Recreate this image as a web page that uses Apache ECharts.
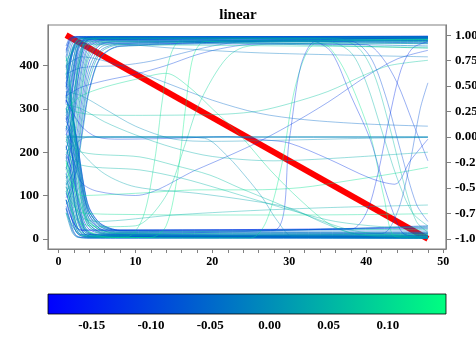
<!DOCTYPE html>
<html><head><meta charset="utf-8">
<script src="https://cdn.jsdelivr.net/npm/echarts@6/dist/echarts.min.js"></script>
<style>html,body{margin:0;padding:0;background:#fff}#c{width:476px;height:343px}</style>
</head><body><div id="c"></div>
<script>
const TITLE = 'linear';
const X_TICKS = [0,2,4,6,8,10,12,14,16,18,20,22,24,26,28,30,32,34,36,38,40,42,44,46,48,50];
const X_LABELS = [0,10,20,30,40,50];
const Y_LEFT_TICKS = [0,100,200,300,400];
const Y_RIGHT_TICKS = [-1,-0.75,-0.5,-0.25,0,0.25,0.5,0.75,1];
const CBAR_TICKS = [-0.15,-0.10,-0.05,0.00,0.05,0.10];
const CBAR_RANGE = [-0.187, 0.149];
const RED_LINE = [[1, 1], [48, -1]];

// shared x grid for the fast-settling lines
const FAST_X = [1, 1.4, 1.8, 2.2, 2.6, 3.3, 4, 5.5, 8, 48];
const upLines = [
 [445,462,466,467,467,467,467,467,467,466],
 [430,455,463,465,466,466,466,466,466,465],
 [410,440,458,464,465,465,465,465,465,464],
 [395,425,450,460,463,464,464,464,464,463],
 [380,405,435,452,460,463,463,463,463,460],
 [360,390,425,448,458,462,462,462,462,458],
 [345,370,405,435,452,460,461,461,461,455],
 [330,350,385,420,445,458,460,460,460,452],
 [315,340,375,410,440,457,461,462,462,462],
 [300,320,350,390,425,452,460,462,462,461],
 [285,305,340,380,415,450,460,463,463,463],
 [270,290,320,360,400,445,458,462,463,462],
 [255,275,310,350,395,440,456,461,462,464],
 [240,255,285,330,375,432,452,460,461,466],
 [225,240,270,310,355,420,448,458,460,465],
 [210,225,255,295,340,410,443,457,459,458],
 [195,210,235,275,320,395,435,455,458,450],
 [180,195,220,255,300,380,428,452,456,445],
 [165,180,205,240,285,370,420,450,455,440],
 [150,160,185,220,265,350,410,448,454,456],
 [140,150,170,200,245,330,395,442,452,462],
 [125,135,150,180,225,310,380,435,450,466],
 [110,118,135,165,210,295,365,430,448,460],
 [95,105,125,150,190,275,345,420,445,464],
 [80,90,110,140,180,265,340,418,444,458],
 [420,450,462,465,466,466,466,466,466,467],
 [370,400,438,456,462,464,464,464,464,466],
 [325,360,400,435,455,463,465,465,465,465],
 [290,330,375,420,448,462,465,466,466,466],
 [250,290,340,395,435,460,464,465,465,467],
 [205,240,295,355,410,455,463,465,465,466],
 [160,190,245,310,375,445,461,464,464,465],
 [435,458,465,466,466,466,466,466,466,468],
 [350,385,428,452,461,464,465,465,465,467],
 [275,310,360,410,443,461,464,465,465,464],
 [185,215,270,335,395,450,462,464,464,463]
];
const upValues = [-0.07,-0.04,-0.01,-0.1,0.01,-0.06,0.03,-0.12,-0.02,-0.08,0.02,-0.05,0.05,-0.14,0.0,-0.09,0.03,-0.03,0.06,-0.11,-0.01,-0.06,0.04,-0.15,0.01,-0.08,-0.02,-0.04,0.03,-0.1,0.0,-0.05,-0.13,-0.03,-0.07,0.02];
const downLines = [
 [60,35,15,6,3,2,2,2,2,2],
 [75,50,25,10,5,3,3,3,3,3],
 [90,68,40,20,10,5,4,4,4,4],
 [105,85,55,30,15,7,5,5,5,6],
 [120,100,70,42,22,9,6,5,5,8],
 [135,115,85,55,32,12,7,6,6,10],
 [150,132,100,70,45,18,10,7,7,12],
 [165,148,118,85,58,25,13,9,8,5],
 [180,165,135,100,72,33,17,10,9,4],
 [195,180,150,118,88,42,22,12,10,3],
 [210,195,168,135,102,52,28,14,11,2],
 [225,210,185,152,118,62,33,16,12,6],
 [240,228,200,168,132,72,40,20,14,9],
 [255,242,218,185,148,84,47,23,15,12],
 [270,258,235,202,165,96,55,27,17,15],
 [285,272,250,218,180,108,62,30,19,18],
 [300,288,265,232,195,120,70,34,20,22],
 [320,305,280,245,205,125,72,35,20,25],
 [340,320,290,250,205,120,65,28,15,28],
 [360,335,295,245,195,105,55,22,12,30],
 [380,350,300,240,180,90,45,18,10,5],
 [400,365,300,225,160,75,35,14,8,3],
 [420,375,295,210,140,60,28,12,7,1],
 [110,80,45,20,10,5,4,4,4,2],
 [145,115,75,40,20,8,5,4,4,3],
 [190,160,115,70,38,13,7,5,5,4],
 [235,205,155,100,58,20,10,6,6,5],
 [280,250,195,130,78,28,13,8,7,6],
 [330,295,230,155,92,33,15,8,7,7],
 [175,160,140,115,92,58,38,20,12,11],
 [260,250,228,195,160,100,62,32,18,14],
 [70,42,20,8,4,2,1,1,1,1],
 [130,98,60,30,14,6,4,3,3,2],
 [215,180,125,75,40,14,7,5,5,3],
 [300,260,195,125,72,24,11,7,6,4]
];
const downValues = [0.0,-0.06,0.04,-0.03,-0.11,0.02,-0.07,-0.02,0.06,-0.13,0.01,-0.04,0.03,-0.09,-0.01,-0.05,0.05,-0.15,0.0,-0.08,0.02,-0.03,0.07,-0.1,-0.02,-0.06,0.04,-0.12,0.01,0.09,-0.04,-0.07,0.0,-0.1,-0.05];
const slowLines = [
 [[1,60],[3,8],[10,3],[25,2],[27,40],[29,170],[30.5,330],[32,420],[33.5,452],[35,445],[37,395],[39,315],[40.7,228],[42.3,95],[43.8,5],[48,2]],
 [[1,90],[3,20],[28,20],[30,230],[31.5,400],[33.3,455],[35.5,430],[38,330],[40.5,230],[42,140],[43.5,60],[45,10],[48,5]],
 [[1,250],[2,180],[3,130],[5,110],[10,100],[18,160],[25,215],[30,262],[35,315],[40,375],[44,415],[48,435]],
 [[1,300],[3,290],[5,286],[10,285],[18,286],[22,288],[26,295],[30,312],[35,340],[40,380],[43,400],[48,412]],
 [[1,330],[3,350],[6,365],[10,380],[14,400],[18,425],[22,442],[26,450],[48,452]],
 [[1,380],[3,395],[8,400],[12,410],[16,428],[20,445],[24,455],[48,458]],
 [[1,300],[3,330],[6,350],[10,368],[14,382],[17,350],[20,300],[23.6,239],[27.5,159],[31.4,90],[35.4,32],[39.4,9],[48,5]],
 [[1,180],[2,90],[3,30],[5,8],[8,3],[12,3],[14,30],[15.5,150],[16.5,300],[17.5,420],[19,455],[48,460]],
 [[1,120],[2,50],[3,15],[6,4],[9,5],[11,50],[12.5,180],[13.5,320],[14.5,420],[16,458],[48,456]],
 [[1,90],[2,55],[3,35],[6,28],[10,30],[14,100],[16.5,220],[18,300],[20,370],[22,420],[24,442],[28,450],[48,452]],
 [[1,240],[3,235],[15,235],[19,232],[22,190],[24.5,140],[26.5,95],[28.5,40],[30.5,5],[48,3]],
 [[1,230],[3,200],[10.6,189],[15,170],[19.7,147],[23.6,117],[28,85],[31.4,60],[38,20],[44,8],[48,6]],
 [[1,200],[3,170],[10.6,159],[16,140],[21,115],[26,88],[31.4,60],[36,40],[42,28],[48,25]],
 [[1,110],[3,60],[10,56],[20,55],[30,55],[40,56],[48,58]],
 [[1,150],[2,80],[3,50],[5,40],[15,55],[25,65],[35,72],[48,78]],
 [[1,160],[3,100],[10,105],[18.4,113],[25,113],[31.4,118],[38,135],[44,152],[48,165]],
 [[1,320],[3,260],[5,235],[8,230],[15,232],[22,236],[27,228],[30,221],[35,185],[40.5,140],[43.7,126],[45.7,180],[48,230]],
 [[1,260],[3,200],[6,150],[10,120],[18,105],[25,88],[30.1,71],[34,40],[37.9,14],[42,5],[48,4]],
 [[1,400],[3,462],[36,462],[39,440],[41,380],[43,260],[45,120],[46.5,40],[48,15]],
 [[1,350],[3,458],[38,456],[40.5,420],[42.5,330],[44.5,200],[46.5,80],[48,40]],
 [[1,380],[3,455],[35,455],[38,430],[40,360],[42,250],[44,140],[46,60],[48,30]],
 [[1,310],[3,450],[40,448],[42,420],[44,360],[46,270],[48,180]],
 [[1,90],[3,20],[38,22],[40,60],[41.5,150],[43,280],[44.5,390],[46,440],[48,455]],
 [[1,70],[3,10],[42,12],[44,60],[45.5,160],[47,300],[48,360]],
 [[1,340],[3,330],[6,300],[10,260],[15,230],[20,225],[30,228],[40,232],[48,234]],
 [[1,310],[3,300],[6,270],[10,240],[15,210],[20,190],[28,180],[35,185],[48,200]],
 [[1,400],[3,420],[8,400],[14,360],[20,320],[26,290],[32,275],[40,265],[48,260]],
 [[1,410],[3,448],[48,442]],
 [[1,390],[3,455],[15,440],[25,430],[35,425],[48,420]],
 [[1,234],[48,234]],
 [[1,236],[48,236]],
 [[1,200],[2,215],[3,230],[4,235],[48,235]]
];
const slowValues = [0.12,-0.12,-0.11,0.07,-0.1,-0.06,0.1,0.13,0.11,0.09,0.0,0.06,0.05,0.1,0.04,0.11,-0.12,0.03,0.06,-0.09,0.05,-0.11,-0.13,-0.08,0.0,0.04,-0.05,0.08,-0.03,-0.02,0.0,-0.01];

function winter(v, a) {
  const t = Math.max(0, Math.min(1, (v - CBAR_RANGE[0]) / (CBAR_RANGE[1] - CBAR_RANGE[0])));
  return 'rgba(0,' + Math.round(255 * t) + ',' + Math.round(255 - 127.5 * t) + ',' + a + ')';
}
const FONT = 'Liberation Serif';
const series = [];
series.push({type:'line', xAxisIndex:0, yAxisIndex:1, data:RED_LINE, symbol:'none',
  lineStyle:{color:'#ff0000', width:6, cap:'butt'}, silent:true, z:1});
function addLine(data, v, a, w) {
  series.push({type:'line', xAxisIndex:0, yAxisIndex:0, data:data, symbol:'none', smooth:0.3,
    lineStyle:{color:winter(v, a), width:w}, silent:true, z:2});
}
upLines.forEach((l,i)=>addLine(FAST_X.map((x,j)=>[x,l[j]]), upValues[i], 0.6, 0.9));
downLines.forEach((l,i)=>addLine(FAST_X.map((x,j)=>[x,l[j]]), downValues[i], 0.6, 0.9));
slowLines.forEach((l,i)=>addLine(l, slowValues[i], 0.5, 0.8));
// colorbar
series.push({type:'custom', xAxisIndex:1, yAxisIndex:2, data:[[CBAR_RANGE[0], CBAR_RANGE[1]]],
  renderItem:function(params, api){
    const p0 = api.coord([api.value(0), 1]);
    const p1 = api.coord([api.value(1), 0]);
    return {type:'rect', shape:{x:p0[0], y:p0[1], width:p1[0]-p0[0], height:p1[1]-p0[1]},
      style:{fill:new echarts.graphic.LinearGradient(0,0,1,0,[{offset:0,color:'#0000ff'},{offset:1,color:'#00ff80'}]),
        stroke:'#000', lineWidth:0.8}};
  }, silent:true});

const chart = echarts.init(document.getElementById('c'), null, {renderer:'canvas'});
const lineGrey = {color:'#808080', width:1};
chart.setOption({
  animation:false,
  backgroundColor:'#fff',
  title:{text:TITLE, left:'center', top:3, textStyle:{fontFamily:FONT, fontWeight:'bold', fontSize:15, color:'#000'}},
  grid:[
    {left:48, top:25, width:398, height:224, show:true, borderColor:'#808080', borderWidth:1.2, containLabel:false, outerBoundsMode:'none'},
    {left:48, top:294, width:398, height:20, show:false, containLabel:false, outerBoundsMode:'none'}
  ],
  xAxis:[
    {type:'value', gridIndex:0, min:-1.35, max:50.35, splitLine:{show:false},
      axisLine:{show:true, onZero:false, lineStyle:lineGrey},
      axisTick:{show:true, length:4, lineStyle:{color:'#808080'}, customValues:X_TICKS},
      axisLabel:{customValues:X_LABELS, fontFamily:FONT, fontWeight:'bold', fontSize:12, color:'#000', margin:7}},
    {type:'value', gridIndex:1, min:CBAR_RANGE[0], max:CBAR_RANGE[1], axisLine:{show:false}, splitLine:{show:false},
      axisTick:{show:false},
      axisLabel:{customValues:CBAR_TICKS, formatter:v=>v.toFixed(2), fontFamily:FONT, fontWeight:'bold', fontSize:13, color:'#000', margin:5}}
  ],
  yAxis:[
    {type:'value', gridIndex:0, min:-23.5, max:493.5, splitLine:{show:false},
      axisLine:{show:true, onZero:false, lineStyle:lineGrey},
      axisTick:{show:true, length:5, lineStyle:{color:'#808080'}, customValues:Y_LEFT_TICKS},
      axisLabel:{customValues:Y_LEFT_TICKS, fontFamily:FONT, fontWeight:'bold', fontSize:13, color:'#000', margin:9}},
    {type:'value', gridIndex:0, position:'right', min:-1.1, max:1.1, splitLine:{show:false},
      axisLine:{show:true, onZero:false, lineStyle:lineGrey},
      axisTick:{show:true, length:5, lineStyle:{color:'#808080'}, customValues:Y_RIGHT_TICKS},
      axisLabel:{customValues:Y_RIGHT_TICKS, formatter:v=>v.toFixed(2), fontFamily:FONT, fontWeight:'bold', fontSize:13, color:'#000', margin:9}},
    {type:'value', gridIndex:1, min:0, max:1, show:false}
  ],
  series:series
});
</script>
</body></html>
